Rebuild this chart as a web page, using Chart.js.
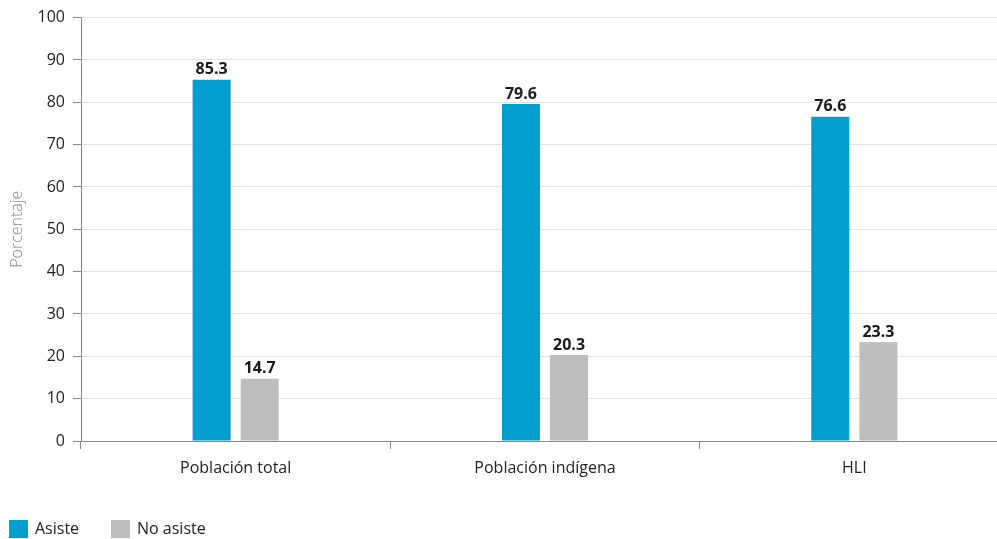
<!DOCTYPE html>
<html>
<head>
<meta charset="utf-8">
<script src="https://cdn.jsdelivr.net/npm/chart.js@4"></script>
<style>
  html, body { margin: 0; padding: 0; background: #fff; overflow: hidden; }
  #wrap { position: relative; width: 1009px; height: 539px; }
</style>
</head>
<body>
<div id="wrap"><canvas id="c"></canvas></div>
<script>
const categories = ['Población total', 'Población indígena', 'HLI'];
const asiste = [85.3, 79.6, 76.6];
const noAsiste = [14.7, 20.3, 23.3];
const seriesNames = ['Asiste', 'No asiste'];
const colors = ['#029ECD', '#BDBDBD'];
const yTicks = [0, 10, 20, 30, 40, 50, 60, 70, 80, 90, 100];

const FONT = "'Open Sans', 'Noto Sans', sans-serif";

const valueLabels = {
  id: 'valueLabels',
  afterDatasetsDraw(chart) {
    const ctx = chart.ctx;
    ctx.save();
    ctx.font = 'bold 16px ' + FONT;
    ctx.fillStyle = '#1a1a1a';
    ctx.textAlign = 'center';
    ctx.textBaseline = 'bottom';
    chart.data.datasets.forEach((ds, i) => {
      chart.getDatasetMeta(i).data.forEach((bar, j) => {
        ctx.fillText(ds.data[j].toFixed(1), bar.x, bar.y - 2);
      });
    });
    ctx.restore();
  }
};

const customLegend = {
  id: 'customLegend',
  afterDraw(chart) {
    const ctx = chart.ctx;
    ctx.save();
    ctx.font = '16px ' + FONT;
    ctx.textBaseline = 'middle';
    ctx.textAlign = 'left';
    const xs = [9, 111];
    chart.data.datasets.forEach((ds, i) => {
      ctx.fillStyle = ds.backgroundColor;
      ctx.fillRect(xs[i], 520, 19, 18);
      ctx.fillStyle = '#222';
      ctx.fillText(ds.label, xs[i] + 26, 529);
    });
    ctx.restore();
  }
};

new Chart(document.getElementById('c'), {
  type: 'bar',
  data: {
    labels: categories,
    datasets: [
      { label: seriesNames[0], data: asiste, backgroundColor: colors[0], borderWidth: 0 },
      { label: seriesNames[1], data: noAsiste, backgroundColor: colors[1], borderWidth: 0 }
    ]
  },
  options: {
    responsive: true,
    maintainAspectRatio: false,
    animation: false,
    devicePixelRatio: 1,
    categoryPercentage: 0.311,
    barPercentage: 0.79,
    layout: { padding: { top: 15, right: 0, bottom: 0, left: 0 } },
    plugins: {
      legend: { display: false },
      tooltip: { enabled: false }
    },
    scales: {
      x: {
        grid: {
          offset: true,
          drawOnChartArea: false,
          drawTicks: true,
          tickLength: 8,
          color: '#888'
        },
        border: { color: '#888', width: 1 },
        ticks: {
          color: '#222',
          font: { family: FONT, size: 16 },
          padding: 10
        },
        afterFit(scale) { scale.height = 98; }
      },
      y: {
        min: 0,
        max: 100,
        afterBuildTicks(scale) { scale.ticks = yTicks.map(v => ({ value: v })); },
        grid: {
          color: '#e3e3e3',
          tickColor: '#888',
          tickLength: 8,
          drawTicks: true
        },
        border: { color: '#888', width: 1 },
        ticks: {
          color: '#222',
          font: { family: FONT, size: 16 },
          padding: 8
        },
        title: {
          display: true,
          text: 'Porcentaje',
          color: '#888',
          font: { family: FONT, size: 16, weight: '300' },
          padding: { top: 8, bottom: 0 }
        },
        afterFit(scale) { scale.width = 81; }
      }
    }
  },
  plugins: [valueLabels, customLegend]
});
</script>
</body>
</html>
